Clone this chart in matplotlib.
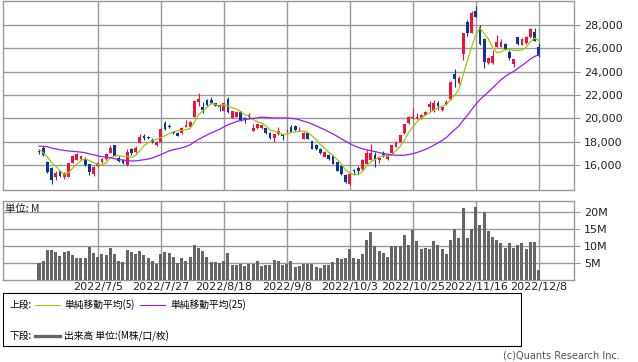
import numpy as np
import pandas as pd
import matplotlib
matplotlib.use('Agg')
import matplotlib.pyplot as plt
from matplotlib.patches import Rectangle
from matplotlib.lines import Line2D

# 日足データ（チャートから読み取り）
open_ = [17200, 17450, 16300, 15770, 15000, 15500, 14950, 15000, 16200, 16450,
         16520, 16500, 16050, 15230, 15950, 16250, 16530, 17050, 17700, 16600,
         16450, 16000, 17350, 17100, 17900, 18480, 18400, 18150, 17700, 18000,
         19640, 19320, 18850, 18770, 18720, 19290, 19290, 20150, 21430, 21000,
         21570, 21600, 21280, 21140, 20650, 21650, 20030, 20150, 20550, 20050,
         20280, 18950, 19150, 19150, 19150, 18780, 18290, 18640, 18620, 18900,
         19220, 19370, 19080, 18250, 18720, 18070, 17700, 17350, 16700, 16850,
         16800, 16250, 15900, 15140, 14350, 15600, 15750, 15660, 16080, 16450,
         16850, 16450, 16950, 16550, 17000, 17580, 18000, 18720, 19600, 19990,
         20000, 20000, 20320, 21000, 20650, 21300, 20680, 21230, 21630, 23800,
         23000, 25490, 28280, 27350, 29230, 27800, 26770, 24720, 24720, 26150,
         26150, 26370, 25720, 24660, 26940, 26290, 26490, 26950, 27370, 26140]
high = [17350, 17650, 16350, 15800, 15500, 15600, 15400, 16200, 16900, 17000,
        16800, 16650, 16100, 15900, 16250, 16600, 17000, 17750, 17750, 16800,
        16550, 17350, 17500, 17650, 18700, 18650, 18500, 18300, 18050, 19150,
        19800, 19500, 18900, 18850, 19250, 19850, 19750, 21550, 22200, 21400,
        21650, 21800, 21350, 21200, 21350, 21800, 20650, 20650, 20600, 20150,
        20430, 19480, 19550, 19450, 19200, 18800, 18650, 19300, 18700, 19050,
        19400, 19450, 19250, 18800, 18750, 18100, 17800, 17450, 17200, 16950,
        16850, 16300, 16000, 15200, 15350, 15700, 15900, 16500, 17300, 17800,
        17100, 16650, 17200, 16900, 17750, 18100, 18600, 19550, 20200, 20850,
        20500, 20400, 20600, 21450, 21600, 21450, 21000, 21550, 23200, 24200,
        23600, 27350, 28430, 29230, 29630, 28000, 26850, 25250, 25850, 27150,
        26780, 26450, 25850, 25100, 27000, 26850, 27050, 27720, 27720, 26430]
low = [16950, 16800, 15350, 14400, 14700, 14950, 14800, 14950, 16150, 16400,
       16450, 15950, 15150, 15050, 15850, 16200, 16450, 17000, 16750, 16250,
       16050, 15950, 16850, 17050, 17850, 18150, 18200, 17900, 17600, 17950,
       19000, 19150, 18700, 18450, 18650, 19250, 19250, 20100, 21050, 20450,
       21100, 21250, 21050, 20600, 20600, 20450, 20000, 20100, 19800, 19570,
       20000, 18900, 19100, 19100, 18650, 18250, 17950, 18600, 18150, 18750,
       18800, 18950, 18900, 18200, 18200, 17350, 17300, 16950, 16650, 16400,
       16050, 15450, 15150, 14450, 14300, 15150, 15250, 15600, 16050, 16400,
       15850, 16150, 16700, 16450, 16950, 17550, 17950, 18700, 19550, 19950,
       19950, 19950, 20300, 20600, 20550, 20750, 20600, 21150, 21550, 22650,
       22950, 25000, 27050, 27300, 28650, 26300, 24300, 24650, 24650, 26100,
       26100, 25850, 25000, 24430, 26300, 26250, 26400, 26900, 26600, 25300]
close = [17100, 16850, 15420, 14750, 15350, 15050, 15300, 16150, 16780, 16930,
         16750, 16030, 15420, 15850, 16200, 16530, 16930, 17450, 16780, 16320,
         16150, 17080, 17000, 17450, 18400, 18350, 18300, 18000, 18000, 19100,
         19060, 19280, 18780, 18500, 19170, 19470, 19700, 21500, 21700, 20720,
         21150, 21320, 21100, 21000, 21280, 20580, 20600, 20570, 19860, 19950,
         20080, 19140, 19480, 19400, 18720, 18280, 18620, 18950, 18500, 18950,
         18820, 19000, 19120, 18780, 18240, 17400, 17380, 17050, 17140, 16490,
         16100, 15520, 15220, 14520, 15200, 15500, 15500, 16430, 17000, 17000,
         16400, 16600, 16880, 16850, 17700, 18000, 18560, 19500, 20100, 20150,
         20150, 20300, 20530, 21250, 21350, 21100, 20950, 21420, 23150, 23350,
         23430, 27290, 27350, 29000, 28720, 26350, 24860, 25140, 25340, 26510,
         26570, 25920, 25150, 25060, 26380, 26770, 27000, 27630, 26660, 25350]

# 出来高（百万株）
volume = [4.9, 5.6, 8.8, 8.8, 8.1, 7.1, 8.2, 8.5, 7.4, 6.6,
          6.6, 6.6, 9.8, 7.9, 6.8, 7.5, 7.4, 9.5, 7.6, 5.6,
          5.3, 8.8, 8.2, 7.6, 8.5, 7.4, 6.6, 5.6, 4.8, 7.7,
          8.2, 7.9, 6.9, 4.9, 6.6, 5.6, 6.8, 10.3, 9.5, 8.5,
          6.9, 5.3, 5.3, 4.9, 5.6, 7.9, 4.4, 4.4, 4.7, 4.2,
          4.8, 4.6, 5.6, 4.2, 4.4, 4.4, 5.9, 5.6, 4.5, 4.8,
          5.6, 3.8, 4.1, 4.7, 4.7, 4.7, 3.8, 3.5, 4.4, 4.4,
          5.3, 6.5, 6.2, 6.5, 9.1, 6.5, 6.2, 7.6, 11.8, 14.1,
          10.0, 8.5, 7.9, 6.8, 10.0, 10.0, 10.0, 13.2, 10.3, 14.7,
          11.5, 9.1, 9.4, 9.1, 11.5, 10.3, 9.1, 7.6, 11.8, 15.0,
          12.3, 21.2, 12.3, 15.0, 21.5, 16.2, 20.0, 14.4, 12.6, 11.8,
          10.9, 9.4, 10.9, 9.4, 10.3, 10.9, 9.1, 11.2, 11.2, 2.9]

# 期間初めの移動平均（表示期間より前のデータに依存するのでチャートから読み取り）
ma5_head = [17350, 17050, 16700, 16200]
ma25_head = [17620, 17600, 17560, 17450, 17380, 17300, 17250, 17200, 17170, 17140,
             17100, 17050, 16950, 16880, 16780, 16720, 16670, 16620, 16540, 16480,
             16420, 16380, 16350, 16350]

date_labels = ['2022/7/5', '2022/7/27', '2022/8/18', '2022/9/8',
               '2022/10/3', '2022/10/25', '2022/11/16', '2022/12/8']
date_idx = [14, 29, 44, 59, 74, 89, 104, 119]

RED = '#f0113c'
BLUE = '#0a3796'
GREEN = '#99cc00'
PURPLE = '#9a1cf5'
GRID = '#9a9a9a'
CJK = ['Noto Sans CJK JP', 'DejaVu Sans']

o = np.array(open_)
h = np.array(high)
l = np.array(low)
c = np.array(close)
x = np.arange(len(c))

ma5 = pd.Series(c).rolling(5).mean().to_numpy()
ma5[:len(ma5_head)] = ma5_head
ma25 = pd.Series(c).rolling(25).mean().to_numpy()
ma25[:len(ma25_head)] = ma25_head

W, H = 638, 362
fig = plt.figure(figsize=(W / 100, H / 100), dpi=100)
ax = fig.add_axes([3 / W, 1 - 190 / H, 571 / W, 189 / H])
axv = fig.add_axes([3 / W, 1 - 280 / H, 571 / W, 79 / H])

# ローソク足
colors = np.where(c >= o, RED, BLUE)
ax.vlines(x, l, h, color=colors, lw=0.8, zorder=3)
ax.bar(x, np.maximum(np.abs(c - o), 40), bottom=np.minimum(o, c),
       width=0.66, color=colors, lw=0, zorder=3)
ax.plot(x, ma5, color=GREEN, lw=0.9, zorder=4)
ax.plot(x, ma25, color=PURPLE, lw=0.9, zorder=4)

ax.set_xlim(-8.57, 127.4)
ax.set_ylim(13857, 30060)
ax.set_xticks(date_idx)
ax.set_xticklabels([])
ax.set_yticks(range(16000, 28001, 2000))
ax.set_yticklabels([f'{v:,}' for v in range(16000, 28001, 2000)])
ax.yaxis.tick_right()

# 出来高
axv.bar(x, volume, width=0.72, color='#666666', lw=0, zorder=3)
axv.set_xlim(-8.57, 127.4)
axv.set_ylim(0, 23.2)
axv.set_xticks(date_idx)
axv.set_xticklabels(date_labels)
axv.set_yticks([5, 10, 15, 20])
axv.set_yticklabels(['5M', '10M', '15M', '20M'])
axv.yaxis.tick_right()
axv.text(0.004, 0.9, '単位: M', transform=axv.transAxes, fontsize=7.5,
         family=CJK, va='center', ha='left', color='#222222')

for a in (ax, axv):
    a.grid(color=GRID, lw=1)
    a.set_axisbelow(True)
    for sp in a.spines.values():
        sp.set_color(GRID)
        sp.set_linewidth(1)
    a.tick_params(axis='x', length=0, labelsize=8, pad=1.5, labelcolor='#222222')
    a.tick_params(axis='y', length=4, color=GRID, labelsize=8, pad=3,
                  labelcolor='#222222')

# 凡例
fig.add_artist(Rectangle((3 / W, 1 - 346 / H), 518 / W, 53 / H,
                         transform=fig.transFigure, fill=False,
                         ec='black', lw=0.8))
y1 = 1 - 305 / H
y2 = 1 - 336 / H
fig.text(9 / W, y1, '上段:', fontsize=7, family=CJK, va='center')
fig.add_artist(Line2D([35 / W, 60 / W], [y1, y1], color=GREEN, lw=0.8))
fig.text(64 / W, y1, '単純移動平均(5)', fontsize=7, family=CJK, va='center')
fig.add_artist(Line2D([140 / W, 165 / W], [y1, y1], color=PURPLE, lw=0.8))
fig.text(170 / W, y1, '単純移動平均(25)', fontsize=7, family=CJK, va='center')
fig.text(9 / W, y2, '下段:', fontsize=7, family=CJK, va='center')
fig.add_artist(Line2D([35 / W, 60 / W], [y2, y2], color='#666666', lw=2.4))
fig.text(64 / W, y2, '出来高 単位:(M株/口/枚)', fontsize=7, family=CJK, va='center')

fig.text(620 / W, 1 - 356 / H, '(c)Quants Research Inc.', fontsize=7,
         ha='right', va='center', color='#555555')

fig.savefig('out.png', dpi=100)
